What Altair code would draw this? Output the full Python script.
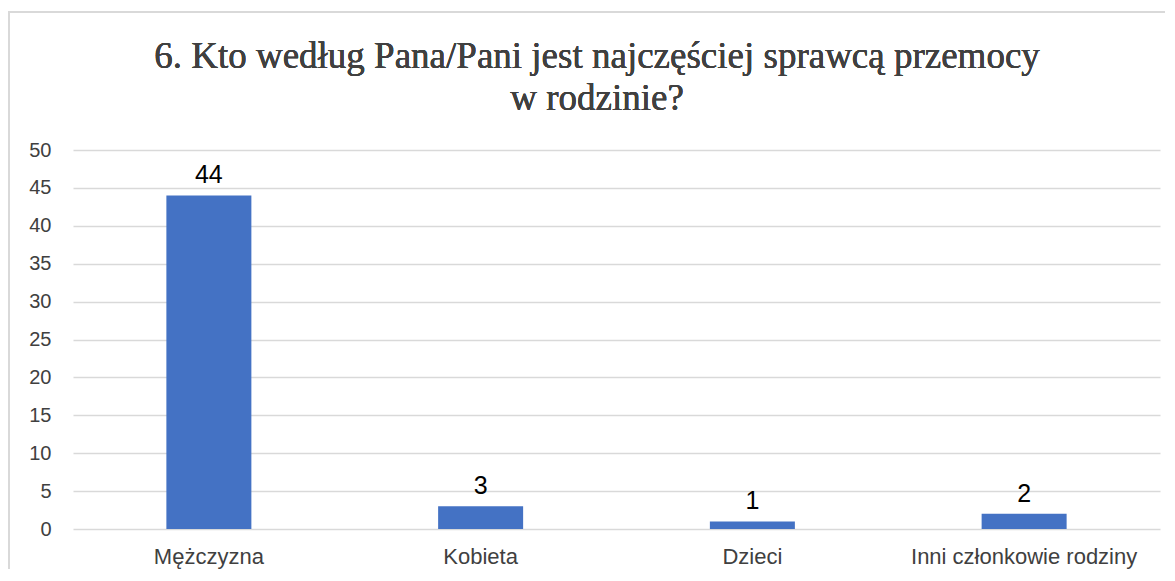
import altair as alt
import pandas as pd

categories = ["Mężczyzna", "Kobieta", "Dzieci", "Inni członkowie rodziny"]
values = [44, 3, 1, 2]
y_ticks = [0, 5, 10, 15, 20, 25, 30, 35, 40, 45, 50]
title_lines = ["6. Kto według Pana/Pani jest najczęściej sprawcą przemocy", "w rodzinie?"]

df = pd.DataFrame({"cat": categories, "val": values})

W = 1087
H = 379

x_scale = alt.Scale(paddingInner=0, paddingOuter=0)
y_scale = alt.Scale(domain=[0, 50], nice=False)

x_axis = alt.Axis(labelAngle=0, labelFont="Liberation Sans", labelFontSize=22,
                  labelColor="#404040", ticks=False, domain=False, labelPadding=17,
                  labelLimit=400)
y_axis = alt.Axis(values=y_ticks, labelFont="Liberation Sans", labelFontSize=20,
                  labelColor="#404040", ticks=False, domain=False, labelPadding=22,
                  labelOverlap=False, labelFlush=False,
                  gridColor="#d9d9d9", gridWidth=1.5)

x_enc = alt.X("cat:N", sort=categories, title=None, scale=x_scale, axis=x_axis)
y_enc = alt.Y("val:Q", title=None, scale=y_scale, axis=y_axis)

border = alt.Chart(df).mark_rect(fill=None, stroke="#d9d9d9", strokeWidth=1.5, clip=False).encode(
    x=alt.value(-64), x2=alt.value(W + 40), y=alt.value(-138), y2=alt.value(H + 80)
)

bars = alt.Chart(df).mark_bar(size=85, color="#4472C4").encode(x=x_enc, y=y_enc)

labels = alt.Chart(df).mark_text(baseline="alphabetic", dy=-12, font="Liberation Sans",
                                 fontSize=25, color="#000000").encode(
    x=x_enc, y=y_enc, text="val:Q")

t1 = alt.Chart(df).mark_text(font="Liberation Serif", fontSize=37, color="#404040",
                             baseline="alphabetic", align="center", text=title_lines[0]).encode(
    x=alt.value(524), y=alt.value(-82))
t2 = alt.Chart(df).mark_text(font="Liberation Serif", fontSize=37, color="#404040",
                             baseline="alphabetic", align="center", text=title_lines[1]).encode(
    x=alt.value(524), y=alt.value(-40))

chart = alt.layer(bars, labels, border, t1, t2).properties(
    width=W, height=H,
    autosize=alt.AutoSizeParams(type="none"),
    padding={"left": 65, "top": 142, "right": 5, "bottom": 40},
).configure_view(stroke=None)

chart.save("out.html", embed_options={"renderer": "svg", "actions": False})
